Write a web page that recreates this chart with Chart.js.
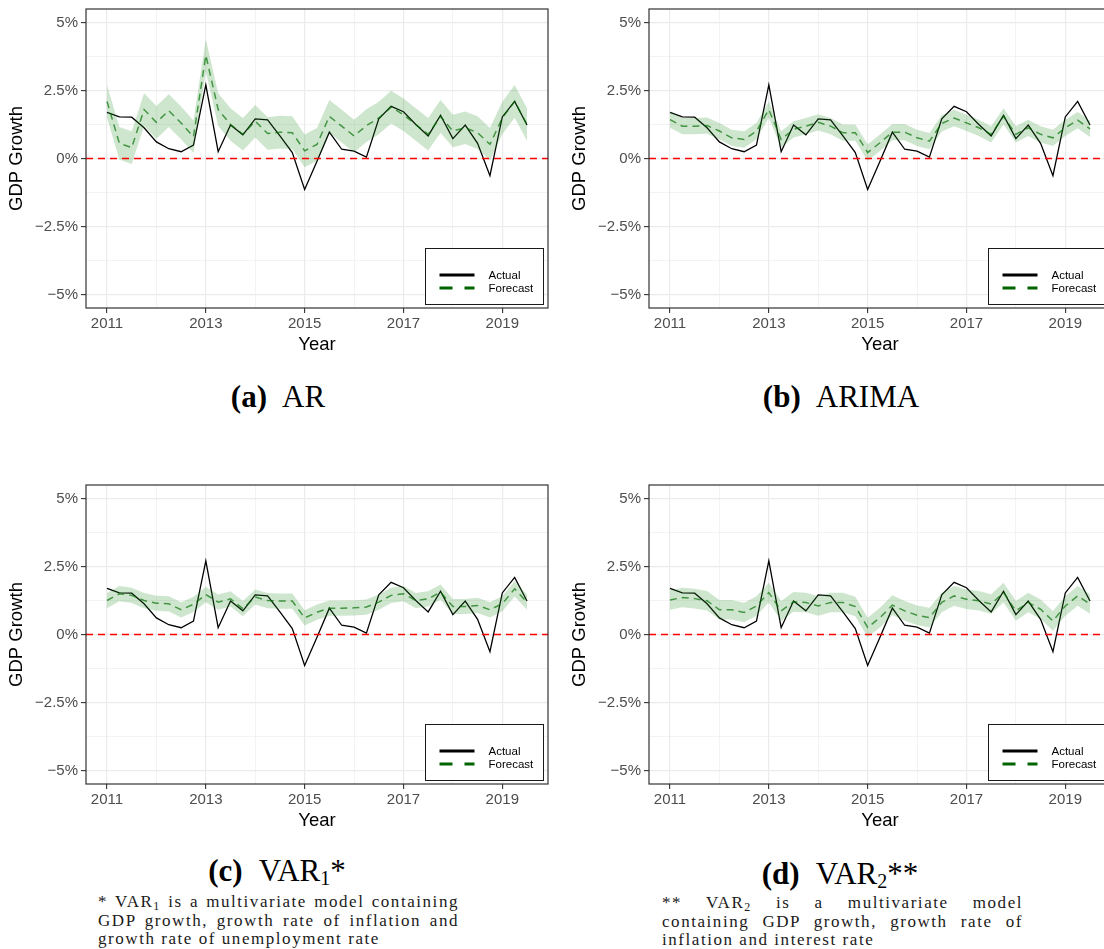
<!DOCTYPE html>
<html>
<head>
<meta charset="utf-8">
<script src="https://cdn.jsdelivr.net/npm/chart.js@4.4.0/dist/chart.umd.min.js"></script>
<style>
body{margin:0;background:#fff;}
#page{position:relative;width:1104px;height:949px;overflow:hidden;background:#fff;}
canvas{position:absolute;}
.cap{position:absolute;width:400px;text-align:center;font-family:"Liberation Serif",serif;font-size:31px;line-height:30px;color:#000;white-space:nowrap;}
.cap b{margin-right:9px;}
.cap sub{font-size:20px;vertical-align:-4px;line-height:0;}
.note{position:absolute;font-family:"Liberation Serif",serif;font-size:17px;line-height:18.5px;color:#1a1a1a;letter-spacing:1.55px;}
.note div{text-align:justify;text-align-last:justify;white-space:nowrap;}
.note div.last{text-align-last:left;}
.note sub{font-size:12px;vertical-align:-3px;line-height:0;}
</style>
</head>
<body>
<div id="page">
  <canvas id="chartA" width="560" height="360" style="left:0;top:0"></canvas>
  <canvas id="chartB" width="560" height="360" style="left:563px;top:0"></canvas>
  <canvas id="chartC" width="560" height="360" style="left:0;top:476px"></canvas>
  <canvas id="chartD" width="560" height="360" style="left:563px;top:476px"></canvas>

  <div class="cap" style="left:78px;top:382px"><b>(a)</b> AR</div>
  <div class="cap" style="left:641px;top:382px"><b>(b)</b> ARIMA</div>
  <div class="cap" style="left:77px;top:856px"><b>(c)</b> VAR<sub>1</sub>*</div>
  <div class="cap" style="left:640px;top:859px"><b>(d)</b> VAR<sub>2</sub>**</div>

  <div class="note" style="left:98px;top:893px;width:361px">
    <div>* VAR<sub>1</sub> is a multivariate model containing</div>
    <div>GDP growth, growth rate of inflation and</div>
    <div class="last">growth rate of unemployment rate</div>
  </div>
  <div class="note" style="left:662px;top:894px;width:361px">
    <div>** VAR<sub>2</sub> is a multivariate model</div>
    <div>containing GDP growth, growth rate of</div>
    <div class="last">inflation and interest rate</div>
  </div>
</div>
<script>
// quarterly observations, 2011Q1 .. 2019Q3
var quarters = [2011, 2011.25, 2011.5, 2011.75, 2012, 2012.25, 2012.5, 2012.75,
  2013, 2013.25, 2013.5, 2013.75, 2014, 2014.25, 2014.5, 2014.75,
  2015, 2015.25, 2015.5, 2015.75, 2016, 2016.25, 2016.5, 2016.75,
  2017, 2017.25, 2017.5, 2017.75, 2018, 2018.25, 2018.5, 2018.75,
  2019, 2019.25, 2019.5];

var actual = [1.70, 1.53, 1.52, 1.13, 0.61, 0.36, 0.25, 0.49,
  2.71, 0.25, 1.23, 0.87, 1.46, 1.42, 0.83, 0.22,
  -1.14, -0.10, 0.97, 0.34, 0.27, 0.05, 1.46, 1.92,
  1.72, 1.25, 0.83, 1.59, 0.73, 1.23, 0.56, -0.63,
  1.53, 2.10, 1.23];

var arForecast = [2.10, 0.56, 0.40, 1.80, 1.33, 1.76, 1.31, 0.80,
  3.80, 1.80, 1.25, 0.89, 1.37, 0.92, 0.97, 0.95,
  0.28, 0.52, 1.55, 1.19, 0.83, 1.21, 1.49, 1.89,
  1.61, 1.25, 0.89, 1.55, 1.01, 1.13, 0.95, 0.52,
  1.49, 2.10, 1.25];

var arimaForecast = [1.43, 1.19, 1.19, 1.21, 1.01, 0.76, 0.70, 1.01,
  1.80, 0.70, 1.07, 1.19, 1.33, 1.19, 0.95, 0.95,
  0.22, 0.58, 0.97, 0.97, 0.76, 0.64, 1.29, 1.49,
  1.31, 1.13, 0.89, 1.55, 0.89, 1.13, 0.89, 0.76,
  1.13, 1.41, 1.09];

var var1Forecast = [1.25, 1.50, 1.44, 1.25, 1.15, 1.13, 0.91, 1.11,
  1.47, 1.19, 1.31, 0.95, 1.38, 1.25, 1.23, 1.23,
  0.61, 0.82, 0.97, 0.97, 0.98, 1.01, 1.19, 1.44,
  1.50, 1.25, 1.31, 1.56, 1.03, 1.03, 1.07, 0.91,
  1.13, 1.68, 1.19];

var var2Forecast = [1.27, 1.36, 1.32, 1.24, 0.91, 0.91, 0.81, 1.05,
  1.54, 0.87, 1.20, 1.18, 1.05, 1.18, 1.18, 1.03,
  0.26, 0.62, 1.08, 0.87, 0.71, 0.62, 1.18, 1.42,
  1.30, 1.24, 1.12, 1.54, 0.87, 1.18, 0.93, 0.50,
  1.05, 1.42, 1.12];

// half width of the forecast interval, per panel (AR, ARIMA, VAR1, VAR2)
var bandHalfWidth = [0.60, 0.30, 0.28, 0.36];

var xTicks = [2011, 2012, 2013, 2014, 2015, 2016, 2017, 2018, 2019];
var xTickLabels = ['2011', '', '2013', '', '2015', '', '2017', '', '2019'];
var yTicks = [-5, -3.75, -2.5, -1.25, 0, 1.25, 2.5, 3.75, 5];
var yTickLabels = ['\u22125%', '', '\u22122.5%', '', '0%', '', '2.5%', '', '5%'];

var xRange = [2010.575, 2019.925];
var yRange = [-5.5, 5.5];

function toPoints(xs, ys){
  var pts = [];
  for(var i=0;i<xs.length;i++){
    pts.push({x: xs[i], y: ys[i]});
  }
  return pts;
}

function isMajor(list, labels, v){
  var idx = list.indexOf(v);
  return idx >= 0 && labels[idx] !== '';
}

var panelBox = {
  id: 'panelBox',
  afterDraw: function(chart){
    var a = chart.chartArea;
    var ctx = chart.ctx;
    ctx.save();
    ctx.strokeStyle = '#333333';
    ctx.lineWidth = 1.2;
    ctx.strokeRect(a.left, a.top, a.right - a.left, a.bottom - a.top);

    // legend box, bottom right inside the panel
    var bx = Math.round(a.right - 123) + 0.5;
    var by = Math.round(a.bottom - 60) + 0.5;
    ctx.fillStyle = '#ffffff';
    ctx.fillRect(bx, by, 118, 56);
    ctx.strokeStyle = '#1a1a1a';
    ctx.lineWidth = 1;
    ctx.strokeRect(bx, by, 118, 56);

    ctx.lineWidth = 3;
    ctx.strokeStyle = '#000000';
    ctx.beginPath();
    ctx.moveTo(bx + 14, by + 26.5);
    ctx.lineTo(bx + 49, by + 26.5);
    ctx.stroke();

    ctx.strokeStyle = '#006400';
    ctx.setLineDash([13, 12]);
    ctx.beginPath();
    ctx.moveTo(bx + 14, by + 39.5);
    ctx.lineTo(bx + 49, by + 39.5);
    ctx.stroke();
    ctx.setLineDash([]);

    ctx.fillStyle = '#000000';
    ctx.font = '11.5px "Liberation Sans", Arial, sans-serif';
    ctx.textBaseline = 'middle';
    ctx.fillText('Actual', bx + 63, by + 27);
    ctx.fillText('Forecast', bx + 63, by + 40);
    ctx.restore();
  }
};

function makeChart(canvasId, forecast, halfWidth){
  var upper = [];
  var lower = [];
  for(var i=0;i<forecast.length;i++){
    upper.push(forecast[i] + halfWidth);
    lower.push(forecast[i] - halfWidth);
  }
  var tickFont = {family: '"Liberation Sans", Arial, sans-serif', size: 15};
  var titleFont = {family: '"Liberation Sans", Arial, sans-serif', size: 18.5};

  return new Chart(document.getElementById(canvasId), {
    type: 'line',
    data: {
      datasets: [{
        label: 'Actual',
        data: toPoints(quarters, actual),
        borderColor: '#000000',
        borderWidth: 1.3,
        pointRadius: 0,
        fill: false,
        order: 5
      },{
        label: 'upper',
        data: toPoints(quarters, upper),
        borderWidth: 0,
        borderColor: 'rgba(0,0,0,0)',
        pointRadius: 0,
        backgroundColor: 'rgba(34,139,34,0.22)',
        fill: '+1',
        order: 4
      },{
        label: 'lower',
        data: toPoints(quarters, lower),
        borderWidth: 0,
        borderColor: 'rgba(0,0,0,0)',
        pointRadius: 0,
        fill: false,
        order: 4
      },{
        label: 'Forecast',
        data: toPoints(quarters, forecast),
        borderColor: 'rgba(0,110,0,0.68)',
        borderWidth: 1.5,
        borderDash: [7, 5],
        pointRadius: 0,
        fill: false,
        order: 2
      },{
        label: 'zero',
        data: toPoints(xRange, [0, 0]),
        borderColor: '#ff0000',
        borderWidth: 1.4,
        borderDash: [7, 5],
        pointRadius: 0,
        fill: false,
        order: 1
      }]
    },
    options: {
      responsive: false,
      animation: false,
      devicePixelRatio: 1,
      layout: {padding: {left: 0, top: 9, right: 12, bottom: 0}},
      plugins: {legend: {display: false}, tooltip: {enabled: false}},
      scales: {
        x: {
          type: 'linear',
          min: xRange[0],
          max: xRange[1],
          afterBuildTicks: function(s){
            s.ticks = xTicks.map(function(v){ return {value: v}; });
          },
          afterFit: function(s){
            s.height = 52;
            s.paddingLeft = 0;
            s.paddingRight = 0;
          },
          grid: {
            color: '#ebebeb',
            lineWidth: function(c){ return isMajor(xTicks, xTickLabels, c.tick.value) ? 1.2 : 0.6; },
            tickColor: function(c){ return isMajor(xTicks, xTickLabels, c.tick.value) ? '#333333' : 'rgba(0,0,0,0)'; },
            tickWidth: 1.1,
            tickLength: 5
          },
          border: {display: false},
          ticks: {
            autoSkip: false,
            maxRotation: 0,
            padding: 2,
            color: '#4d4d4d',
            font: tickFont,
            callback: function(v){
              var idx = xTicks.indexOf(v);
              return idx >= 0 ? xTickLabels[idx] : '';
            }
          },
          title: {display: true, text: 'Year', color: '#000', font: titleFont, padding: {top: 0, bottom: 4}}
        },
        y: {
          type: 'linear',
          min: yRange[0],
          max: yRange[1],
          afterBuildTicks: function(s){
            s.ticks = yTicks.map(function(v){ return {value: v}; });
          },
          afterFit: function(s){
            s.width = 86;
            s.paddingTop = 0;
            s.paddingBottom = 0;
          },
          grid: {
            color: '#ebebeb',
            lineWidth: function(c){ return isMajor(yTicks, yTickLabels, c.tick.value) ? 1.2 : 0.6; },
            tickColor: function(c){ return isMajor(yTicks, yTickLabels, c.tick.value) ? '#333333' : 'rgba(0,0,0,0)'; },
            tickWidth: 1.1,
            tickLength: 5
          },
          border: {display: false},
          ticks: {
            autoSkip: false,
            padding: 3,
            color: '#4d4d4d',
            font: tickFont,
            callback: function(v){
              var idx = yTicks.indexOf(v);
              return idx >= 0 ? yTickLabels[idx] : '';
            }
          },
          title: {display: true, text: 'GDP Growth', color: '#000', font: titleFont, padding: {top: 6, bottom: 0}}
        }
      }
    },
    plugins: [panelBox]
  });
}

makeChart('chartA', arForecast, bandHalfWidth[0]);
makeChart('chartB', arimaForecast, bandHalfWidth[1]);
makeChart('chartC', var1Forecast, bandHalfWidth[2]);
makeChart('chartD', var2Forecast, bandHalfWidth[3]);
</script>
</body>
</html>
